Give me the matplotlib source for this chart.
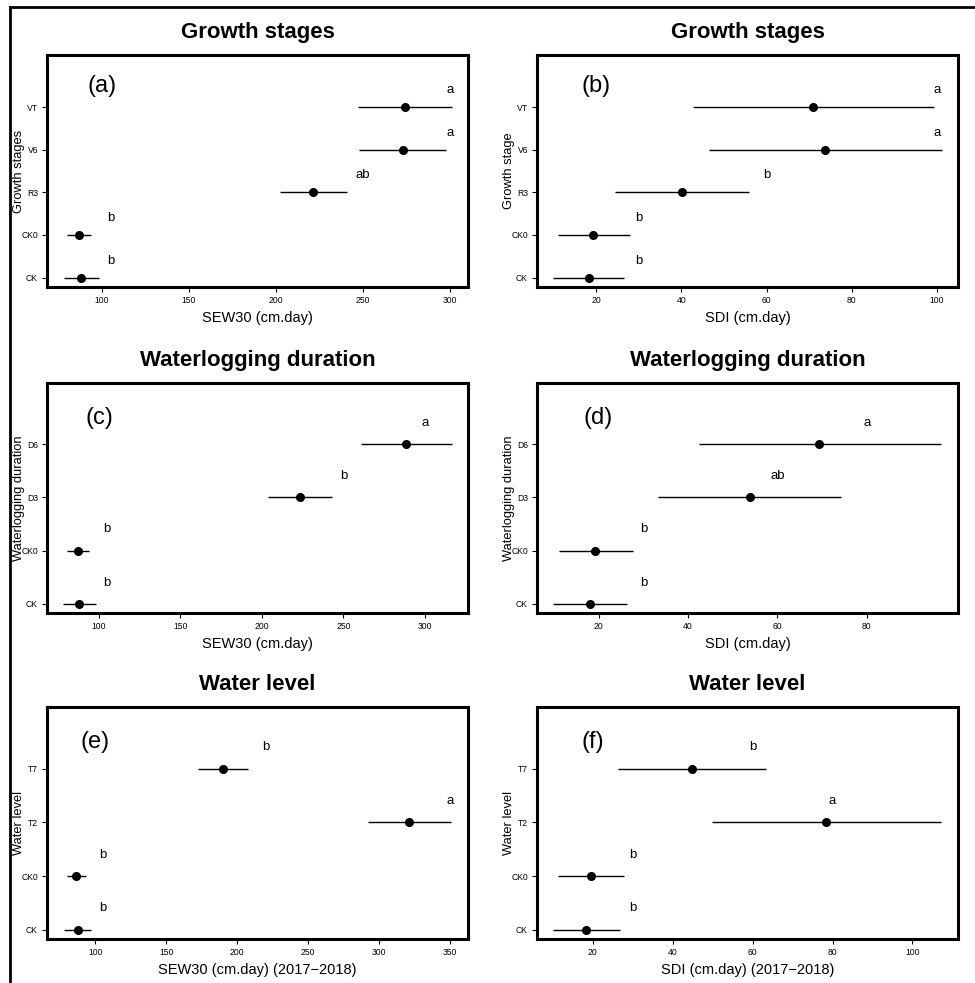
import numpy as np
import matplotlib
matplotlib.use('Agg')
import matplotlib.pyplot as plt
from matplotlib.lines import Line2D

plt.rcParams['font.family'] = ['Liberation Sans', 'DejaVu Sans']

# (a) SEW30 by growth stage
a_cats = ['CK', 'CK0', 'R3', 'V6', 'VT']
a_mean = [87.9, 87.0, 221.0, 272.8, 273.9]
a_low = [78.0, 79.9, 202.5, 247.9, 247.1]
a_high = [98.0, 93.9, 240.8, 297.7, 301.1]
a_letters = ['b', 'b', 'ab', 'a', 'a']
a_letter_x = [105, 105, 250, 300, 300]

# (b) SDI by growth stage
b_cats = ['CK', 'CK0', 'R3', 'V6', 'VT']
b_mean = [18.3, 19.4, 40.2, 73.7, 70.9]
b_low = [9.9, 11.0, 24.5, 46.4, 42.7]
b_high = [26.6, 28.0, 55.9, 101.1, 99.2]
b_letters = ['b', 'b', 'b', 'a', 'a']
b_letter_x = [30, 30, 60, 100, 100]

# (c) SEW30 by waterlogging duration
c_cats = ['CK', 'CK0', 'D3', 'D6']
c_mean = [87.9, 86.9, 223.3, 288.3]
c_low = [78.1, 80.2, 203.9, 260.7]
c_high = [98.2, 94.0, 242.8, 316.4]
c_letters = ['b', 'b', 'b', 'a']
c_letter_x = [105, 105, 250, 300]

# (d) SDI by waterlogging duration
d_cats = ['CK', 'CK0', 'D3', 'D6']
d_mean = [18.1, 19.3, 53.8, 69.4]
d_low = [9.9, 11.1, 33.4, 42.5]
d_high = [26.4, 27.7, 74.2, 96.7]
d_letters = ['b', 'b', 'ab', 'a']
d_letter_x = [30, 30, 60, 80]

# (e) SEW30 by water level
e_cats = ['CK', 'CK0', 'T2', 'T7']
e_mean = [87.8, 86.6, 321.3, 189.9]
e_low = [77.7, 80.0, 292.5, 172.8]
e_high = [97.2, 93.4, 351.2, 207.5]
e_letters = ['b', 'b', 'a', 'b']
e_letter_x = [105, 105, 350, 220]

# (f) SDI by water level
f_cats = ['CK', 'CK0', 'T2', 'T7']
f_mean = [18.3, 19.6, 78.3, 44.8]
f_low = [10.0, 11.2, 49.8, 26.4]
f_high = [26.7, 27.8, 107.1, 63.3]
f_letters = ['b', 'b', 'a', 'b']
f_letter_x = [30, 30, 80, 60]


def draw_panel(ax, cats, mean, low, high, letters, letter_x, tag, tag_x,
               title, xlabel, ylabel, xlim, xticks):
    n = len(cats)
    y = np.arange(1, n + 1)
    ax.hlines(y, low, high, color='black', lw=1.0)
    ax.plot(mean, y, 'o', color='black', ms=5.5)
    for yi, lt, lx in zip(y, letters, letter_x):
        ax.text(lx, yi + 0.4, lt, ha='center', va='center', fontsize=9.5)
    ax.text(tag_x, n + 0.5, tag, ha='center', va='center', fontsize=17)

    ax.set_xlim(*xlim)
    if n == 5:
        ax.set_ylim(0.78, 6.22)
    else:
        ax.set_ylim(0.83, 5.15)
    ax.set_xticks(xticks)
    ax.set_yticks(y)
    ax.set_yticklabels(cats)
    ax.tick_params(labelsize=6.2, length=3.5, width=0.8, pad=3)

    ax.set_title(title, fontsize=16, fontweight='bold', pad=12)
    ax.set_xlabel(xlabel, fontsize=10.5)
    ax.xaxis.set_label_coords(0.5, -0.135)
    ax.xaxis.label.set_va('center')
    ax.set_ylabel(ylabel, fontsize=9.3)
    ax.yaxis.set_label_coords(-0.066, 0.5)
    ax.yaxis.label.set_va('center')
    for sp in ax.spines.values():
        sp.set_linewidth(2.2)


fig = plt.figure(figsize=(9.75, 9.83), dpi=100)
W, H = 975.0, 983.0

lefts = [47, 537]
rows = [(55, 287), (383, 613), (707, 939)]


def make_ax(col, row):
    top, bottom = rows[row]
    return fig.add_axes([lefts[col] / W, 1 - bottom / H, 421 / W, (bottom - top) / H])


draw_panel(make_ax(0, 0), a_cats, a_mean, a_low, a_high, a_letters, a_letter_x,
           '(a)', 100, 'Growth stages', 'SEW30 (cm.day)', 'Growth stages',
           (68.4, 310.3), [100, 150, 200, 250, 300])
draw_panel(make_ax(1, 0), b_cats, b_mean, b_low, b_high, b_letters, b_letter_x,
           '(b)', 20, 'Growth stages', 'SDI (cm.day)', 'Growth stage',
           (6.15, 104.9), [20, 40, 60, 80, 100])
draw_panel(make_ax(0, 1), c_cats, c_mean, c_low, c_high, c_letters, c_letter_x,
           '(c)', 100, 'Waterlogging duration', 'SEW30 (cm.day)', 'Waterlogging duration',
           (68.1, 326.4), [100, 150, 200, 250, 300])
draw_panel(make_ax(1, 1), d_cats, d_mean, d_low, d_high, d_letters, d_letter_x,
           '(d)', 20, 'Waterlogging duration', 'SDI (cm.day)', 'Waterlogging duration',
           (6.22, 100.4), [20, 40, 60, 80])
draw_panel(make_ax(0, 2), e_cats, e_mean, e_low, e_high, e_letters, e_letter_x,
           '(e)', 100, 'Water level', 'SEW30 (cm.day) (2017\u22122018)', 'Water level',
           (66.0, 362.9), [100, 150, 200, 250, 300, 350])
draw_panel(make_ax(1, 2), f_cats, f_mean, f_low, f_high, f_letters, f_letter_x,
           '(f)', 20, 'Water level', 'SDI (cm.day) (2017\u22122018)', 'Water level',
           (6.0, 111.4), [20, 40, 60, 80, 100])

# outer frame (top and left edges only)
fig.add_artist(Line2D([10 / W, 1], [1 - 7 / H, 1 - 7 / H], color='black', lw=2,
                      transform=fig.transFigure))
fig.add_artist(Line2D([10 / W, 10 / W], [0, 1 - 7 / H], color='black', lw=2,
                      transform=fig.transFigure))

fig.savefig('out.png', dpi=100)
